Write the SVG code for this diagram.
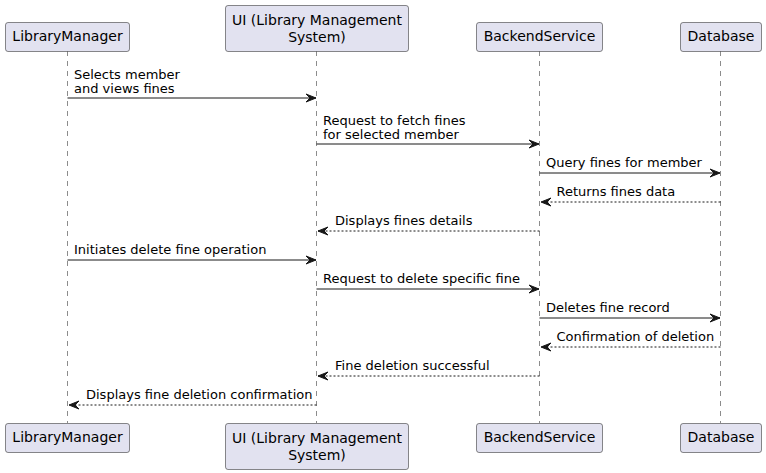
<svg xmlns="http://www.w3.org/2000/svg" width="766" height="473" viewBox="0 0 766 473">
<style>
.p{fill:#E2E2F0;stroke:#181818;stroke-width:0.5}
.pt{font-family:"DejaVu Sans",sans-serif;font-size:14px;fill:#000;text-anchor:middle}
.life{stroke:#181818;stroke-width:0.5;stroke-dasharray:5,5;fill:none}
.m{stroke:#181818;stroke-width:1;fill:none}
.d{stroke:#181818;stroke-width:1;stroke-dasharray:2,2;fill:none}
.mt{font-family:"DejaVu Sans",sans-serif;font-size:13px;fill:#000}
</style>
<defs>
<marker id="ah" viewBox="0 0 11 10" refX="10" refY="5" markerWidth="11" markerHeight="10" markerUnits="userSpaceOnUse" orient="auto">
<polygon points="0,1 10,5 0,9 4,5" fill="#181818" stroke="#181818" stroke-width="1"/>
</marker>
</defs>
<g id="lifelines">
<line class="life" x1="67.5" y1="51" x2="67.5" y2="423"/>
<line class="life" x1="316.5" y1="51" x2="316.5" y2="423"/>
<line class="life" x1="539.5" y1="51" x2="539.5" y2="423"/>
<line class="life" x1="720.5" y1="51" x2="720.5" y2="423"/>
</g>
<g id="LibraryManager">
<rect class="p" x="5.5" y="22.5" width="124" height="29" rx="2.5"/>
<text class="pt" x="67.5" y="41">LibraryManager</text>
<rect class="p" x="5.5" y="423.5" width="124" height="29" rx="2.5"/>
<text class="pt" x="67.5" y="442">LibraryManager</text>
</g>
<g id="UI">
<rect class="p" x="225.5" y="5.5" width="183" height="46" rx="2.5"/>
<text class="pt" x="317" y="25">UI (Library Management</text>
<text class="pt" x="317" y="42">System)</text>
<rect class="p" x="225.5" y="423.5" width="183" height="46" rx="2.5"/>
<text class="pt" x="317" y="443">UI (Library Management</text>
<text class="pt" x="317" y="460">System)</text>
</g>
<g id="BackendService">
<rect class="p" x="476.5" y="22.5" width="126" height="29" rx="2.5"/>
<text class="pt" x="539.5" y="41">BackendService</text>
<rect class="p" x="476.5" y="423.5" width="126" height="29" rx="2.5"/>
<text class="pt" x="539.5" y="442">BackendService</text>
</g>
<g id="Database">
<rect class="p" x="680.5" y="22.5" width="81" height="29" rx="2.5"/>
<text class="pt" x="721" y="41">Database</text>
<rect class="p" x="680.5" y="423.5" width="81" height="29" rx="2.5"/>
<text class="pt" x="721" y="442">Database</text>
</g>
<g id="connectors">
<line class="m" x1="67.5" y1="98" x2="316" y2="98" marker-end="url(#ah)"/>
<line class="m" x1="316.5" y1="144" x2="539" y2="144" marker-end="url(#ah)"/>
<line class="m" x1="539.5" y1="173" x2="720" y2="173" marker-end="url(#ah)"/>
<line class="d" x1="720.5" y1="202" x2="541" y2="202" marker-end="url(#ah)"/>
<line class="d" x1="539.5" y1="231" x2="318" y2="231" marker-end="url(#ah)"/>
<line class="m" x1="67.5" y1="260" x2="316" y2="260" marker-end="url(#ah)"/>
<line class="m" x1="316.5" y1="289" x2="539" y2="289" marker-end="url(#ah)"/>
<line class="m" x1="539.5" y1="318" x2="720" y2="318" marker-end="url(#ah)"/>
<line class="d" x1="720.5" y1="347" x2="541" y2="347" marker-end="url(#ah)"/>
<line class="d" x1="539.5" y1="376" x2="318" y2="376" marker-end="url(#ah)"/>
<line class="d" x1="316.5" y1="405" x2="69" y2="405" marker-end="url(#ah)"/>
</g>
<g id="labels">
<text class="mt" x="74" y="79">Selects member</text>
<text class="mt" x="74" y="93">and views fines</text>
<text class="mt" x="323" y="125">Request to fetch fines</text>
<text class="mt" x="323" y="139">for selected member</text>
<text class="mt" x="546" y="167">Query fines for member</text>
<text class="mt" x="556.5" y="196">Returns fines data</text>
<text class="mt" x="335" y="225">Displays fines details</text>
<text class="mt" x="74" y="254">Initiates delete fine operation</text>
<text class="mt" x="323" y="283">Request to delete specific fine</text>
<text class="mt" x="546" y="312">Deletes fine record</text>
<text class="mt" x="556.5" y="341">Confirmation of deletion</text>
<text class="mt" x="335" y="370">Fine deletion successful</text>
<text class="mt" x="86" y="399">Displays fine deletion confirmation</text>
</g>
</svg>
